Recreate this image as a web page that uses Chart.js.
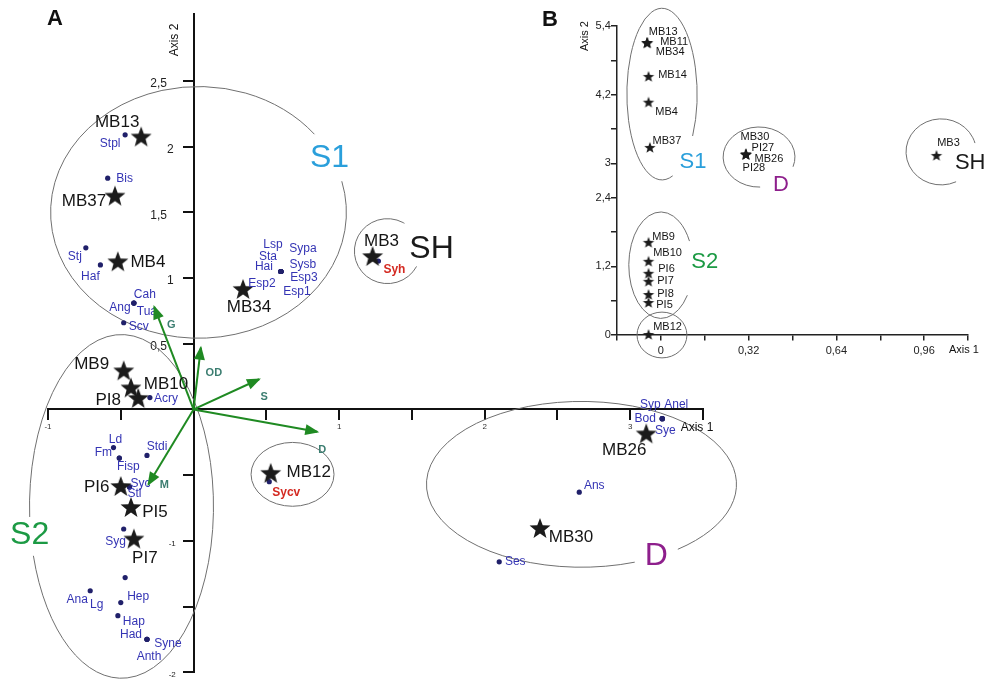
<!DOCTYPE html>
<html>
<head>
<meta charset="utf-8">
<script src="https://cdn.jsdelivr.net/npm/chart.js@4.4.1/dist/chart.umd.min.js"></script>
<style>
  html, body { margin: 0; padding: 0; background: #fff; }
  #wrap { position: relative; width: 987px; height: 680px; overflow: hidden; }
  #chartA { position: absolute; left: 0; top: 0; }
  #chartB { position: absolute; left: 540px; top: 0; }
</style>
</head>
<body>
<div id="wrap">
  <canvas id="chartA" width="987" height="680"></canvas>
  <canvas id="chartB" width="447" height="380"></canvas>
</div>
<script>
// ===== Panel A data =====
const sitesA = ['MB13', 'MB37', 'MB4', 'MB34', 'MB3', 'MB9', 'MB10', 'PI8', 'PI6', 'PI5', 'PI7', 'MB12', 'MB26', 'MB30'];
const siteAx = [-0.36, -0.54, -0.52, 0.34, 1.23, -0.48, -0.43, -0.38, -0.50, -0.43, -0.41, 0.53, 3.11, 2.38];
const siteAy = [2.07, 1.62, 1.12, 0.91, 1.16, 0.29, 0.16, 0.08, -0.59, -0.75, -0.99, -0.49, -0.19, -0.91];

const speciesA = ['Stpl', 'Bis', 'Stj', 'Haf', 'Cah', 'Ang', 'Tua', 'Scv',
  'Lsp', 'Sta', 'Hai', 'Sypa', 'Sysb', 'Esp3', 'Esp2', 'Esp1',
  'Acry', 'Ld', 'Fm', 'Fisp', 'Stdi', 'Syc', 'Stl', 'Syg',
  'Hep', 'Ana', 'Lg', 'Hap', 'Syne', 'Had', 'Anth',
  'Syh', 'Sycv', 'Syp', 'Anel', 'Bod', 'Sye', 'Ans', 'Ses'];
const speciesAx = [-0.47, -0.59, -0.74, -0.64, -0.41, -0.41, -0.41, -0.48,
  0.60, 0.60, 0.60, 0.60, 0.60, 0.60, 0.60, 0.60,
  -0.30, -0.55, -0.51, -0.51, -0.32, -0.44, -0.44, -0.48,
  -0.47, -0.71, -0.50, -0.52, -0.32, -0.32, -0.32,
  1.27, 0.52, 3.22, 3.22, 3.22, 3.22, 2.65, 2.10];
const speciesAy = [2.09, 1.76, 1.23, 1.10, 0.81, 0.81, 0.81, 0.66,
  1.05, 1.05, 1.05, 1.05, 1.05, 1.05, 1.05, 1.05,
  0.09, -0.29, -0.37, -0.37, -0.35, -0.59, -0.59, -0.91,
  -1.28, -1.38, -1.47, -1.57, -1.75, -1.75, -1.75,
  1.13, -0.55, -0.07, -0.07, -0.07, -0.07, -0.63, -1.16];

const envA = ['G', 'OD', 'S', 'D', 'M'];
const envAx = [-0.27, 0.05, 0.45, 0.85, -0.31];
const envAy = [0.78, 0.47, 0.23, -0.17, -0.57];

const ticksAx = [-1, -0.5, 0, 0.5, 1, 1.5, 2, 2.5, 3, 3.5];
const ticksAy = [-2, -1.5, -1, -0.5, 0, 0.5, 1, 1.5, 2, 2.5];
const labeledAx = [-1, 1, 2, 3];
const labeledAy = [-2, -1, 0.5, 1, 1.5, 2, 2.5];

// ===== Panel B data =====
const sitesB = ['MB13', 'MB11', 'MB34', 'MB14', 'MB4', 'MB37', 'MB30', 'PI27', 'MB26', 'PI28', 'MB3',
  'MB9', 'MB10', 'PI6', 'PI7', 'PI8', 'PI5', 'MB12'];
const siteBx = [-0.05, -0.05, -0.05, -0.045, -0.045, -0.04, 0.31, 0.31, 0.31, 0.31, 1.005,
  -0.045, -0.045, -0.045, -0.045, -0.045, -0.045, -0.045];
const siteBy = [5.10, 5.10, 5.10, 4.51, 4.06, 3.27, 3.15, 3.15, 3.15, 3.15, 3.13,
  1.61, 1.28, 1.07, 0.93, 0.70, 0.56, 0.0];

const ticksBx = [-0.16, 0, 0.16, 0.32, 0.48, 0.64, 0.8, 0.96, 1.12];
const ticksBy = [0, 0.6, 1.2, 1.8, 2.4, 3, 3.6, 4.2, 4.8, 5.4];
const labeledBx = [0, 0.32, 0.64, 0.96];
const labeledBy = [0, 1.2, 2.4, 3, 4.2, 5.4];

// ===== group outlines (data units) and label placement =====
const groupsA = [
  { name: 'S1', cx: 0.034, cy: 1.50, rx: 1.016, ry: 0.958, gap: [-0.67, -0.25], lx: 0.934, ly: 1.916, color: '#2a9fdb' },
  { name: 'S2', cx: -0.495, cy: -0.738, rx: 0.632, ry: 1.308, gap: [2.85, 3.08], lx: -1.126, ly: -0.958, color: '#1c9a44' },
  { name: 'SH', cx: 1.332, cy: 1.205, rx: 0.227, ry: 0.247, gap: [-1.03, 0.49], lx: 1.635, ly: 1.217, color: '#1a1a1a' },
  { name: '', cx: 0.68, cy: -0.494, rx: 0.285, ry: 0.243, gap: null, lx: 0, ly: 0, color: '#000' },
  { name: 'D', cx: 2.665, cy: -0.570, rx: 1.065, ry: 0.631, gap: [0.90, 1.22], lx: 3.18, ly: -1.118, color: '#8e1f8c' }
];
const groupsB = [
  { name: 'S1', cx: 0.004, cy: 4.21, rx: 0.128, ry: 1.50, gap: [0.51, 1.26], lx: 0.117, ly: 3.02, color: '#2a9fdb' },
  { name: 'S2', cx: 0.0, cy: 1.22, rx: 0.117, ry: 0.93, gap: [-0.47, 0.6], lx: 0.16, ly: 1.28, color: '#1c9a44' },
  { name: '', cx: 0.004, cy: 0.0, rx: 0.091, ry: 0.40, gap: null, lx: 0, ly: 0, color: '#000' },
  { name: 'D', cx: 0.358, cy: 3.11, rx: 0.131, ry: 0.525, gap: [0.33, 1.54], lx: 0.438, ly: 2.62, color: '#8e1f8c' },
  { name: 'SH', cx: 1.022, cy: 3.20, rx: 0.128, ry: 0.577, gap: [-0.27, 1.13], lx: 1.128, ly: 3.01, color: '#1a1a1a' }
];

// label offsets in pixels from the mark
const offSitesA = {
  MB13: [-24, -15], MB37: [-31, 5], MB4: [30, 0], MB34: [6, 17], MB3: [9, -16], MB9: [-32, -7],
  MB10: [35, -4], PI8: [-30, 1], PI6: [-24, 0], PI5: [24, 4], PI7: [11, 19], MB12: [38, -2],
  MB26: [-22, 16], MB30: [31, 8]
};
const offSpeciesA = {
  Stpl: [-15, 9], Bis: [17, 0], Stj: [-11, 9], Haf: [-10, 12], Cah: [11, -8], Ang: [-14, 5], Tua: [13, 9], Scv: [15, 4],
  Lsp: [-8, -27], Sta: [-13, -15], Hai: [-17, -5], Sypa: [22, -23], Sysb: [22, -7], Esp3: [23, 6], Esp2: [-19, 12], Esp1: [16, 20],
  Acry: [16, 1], Ld: [2, -8], Fm: [-16, -5], Fisp: [9, 9], Stdi: [10, -9], Syc: [11, -3], Stl: [5, 7], Syg: [-8, 13],
  Hep: [13, 19], Ana: [-13, 9], Lg: [-24, 2], Hap: [16, 6], Syne: [21, 4], Had: [-16, -5], Anth: [2, 17],
  Syh: [16, 9], Sycv: [17, 11], Syp: [-12, -14], Anel: [14, -14], Bod: [-17, 0], Sye: [3, 12], Ans: [15, -7], Ses: [16, 0]
};
const offEnvA = { G: [17, 18], OD: [13, 25], S: [5, 18], D: [5, 18], M: [16, 1] };
const offSitesB = {
  MB13: [16, -11], MB11: [27, -1], MB34: [23, 9], MB14: [24, -2], MB4: [18, 9], MB37: [17, -7],
  MB30: [9, -18], PI27: [17, -7], MB26: [23, 4], PI28: [8, 13], MB3: [12, -13],
  MB9: [15, -6], MB10: [19, -9], PI6: [18, -5], PI7: [17, -1], PI8: [17, -1], PI5: [16, 2], MB12: [19, -8]
};
const redSpecies = ['Syh', 'Sycv'];

const FAMILY = "'Liberation Sans', Arial, sans-serif";
const fmt = v => String(v).replace('.', ',');

function makeStar(R) {
  const c = document.createElement('canvas');
  const s = Math.ceil(R * 2 + 2);
  c.width = s;
  c.height = s;
  const g = c.getContext('2d');
  g.fillStyle = '#1b1b1b';
  g.beginPath();
  for (let k = 0; k < 10; k++) {
    const r = k % 2 ? R * 0.42 : R;
    const a = -Math.PI / 2 + k * Math.PI / 5;
    g.lineTo(s / 2 + r * Math.cos(a), s / 2 + r * Math.sin(a));
  }
  g.closePath();
  g.fill();
  return c;
}

function points(xs, ys) {
  return xs.map((x, i) => ({ x, y: ys[i] }));
}

// draws the group ellipses (with a gap for the group name) and the group names
function groupPlugin(groups, fontSize) {
  return {
    id: 'groups',
    beforeDatasetsDraw(chart) {
      const { ctx, scales: { x, y } } = chart;
      ctx.save();
      groups.forEach(g => {
        const cx = x.getPixelForValue(g.cx), cy = y.getPixelForValue(g.cy);
        const rx = Math.abs(x.getPixelForValue(g.cx + g.rx) - cx);
        const ry = Math.abs(y.getPixelForValue(g.cy + g.ry) - cy);
        ctx.strokeStyle = '#707070';
        ctx.lineWidth = 1;
        ctx.beginPath();
        if (g.gap) ctx.ellipse(cx, cy, rx, ry, 0, g.gap[1], g.gap[0] + Math.PI * 2);
        else ctx.ellipse(cx, cy, rx, ry, 0, 0, Math.PI * 2);
        ctx.stroke();
        if (g.name) {
          ctx.fillStyle = g.color;
          ctx.font = fontSize + 'px ' + FAMILY;
          ctx.textAlign = 'center';
          ctx.textBaseline = 'middle';
          ctx.fillText(g.name, x.getPixelForValue(g.lx), y.getPixelForValue(g.ly));
        }
      });
      ctx.restore();
    }
  };
}

// arrow heads + all point labels
const labelPlugin = {
  id: 'pointLabels',
  afterDatasetsDraw(chart) {
    const ctx = chart.ctx;
    chart.data.datasets.forEach((ds, i) => {
      const meta = chart.getDatasetMeta(i);
      ctx.save();
      if (ds.kind === 'arrow') {
        const a = meta.data[0], b = meta.data[1];
        const ang = Math.atan2(b.y - a.y, b.x - a.x);
        ctx.fillStyle = '#1f8a22';
        ctx.translate(b.x, b.y);
        ctx.rotate(ang);
        ctx.beginPath();
        ctx.moveTo(2, 0);
        ctx.lineTo(-12, -5.5);
        ctx.lineTo(-12, 5.5);
        ctx.closePath();
        ctx.fill();
        ctx.setTransform(1, 0, 0, 1, 0, 0);
        const off = offEnvA[ds.name];
        ctx.fillStyle = '#3b7d70';
        ctx.font = 'bold 11px ' + FAMILY;
        ctx.textAlign = 'center';
        ctx.textBaseline = 'middle';
        ctx.fillText(ds.name, b.x + off[0], b.y + off[1]);
      } else if (ds.names) {
        ctx.textAlign = 'center';
        ctx.textBaseline = 'middle';
        meta.data.forEach((el, j) => {
          const name = ds.names[j];
          const off = ds.offsets[name] || [0, 0];
          if (ds.kind === 'siteA') { ctx.font = '17px ' + FAMILY; ctx.fillStyle = '#151515'; }
          else if (ds.kind === 'siteB') { ctx.font = '11px ' + FAMILY; ctx.fillStyle = '#151515'; }
          else if (redSpecies.includes(name)) { ctx.font = 'bold 12px ' + FAMILY; ctx.fillStyle = '#d42a22'; }
          else { ctx.font = '12px ' + FAMILY; ctx.fillStyle = '#3434b4'; }
          ctx.fillText(name, el.x + off[0], el.y + off[1]);
        });
      }
      ctx.restore();
    });
  }
};

const decorA = {
  id: 'decorA',
  afterDraw(chart) {
    const { ctx, scales: { x, y } } = chart;
    ctx.save();
    ctx.fillStyle = '#111';
    ctx.font = 'bold 22px ' + FAMILY;
    ctx.textAlign = 'left';
    ctx.textBaseline = 'top';
    ctx.fillText('A', 47, 8);
    ctx.font = '12px ' + FAMILY;
    ctx.textAlign = 'center';
    ctx.textBaseline = 'middle';
    ctx.fillText('Axis 1', x.right - 6, y.getPixelForValue(0) + 18);
    ctx.translate(x.getPixelForValue(0) - 19, y.top + 26);
    ctx.rotate(-Math.PI / 2);
    ctx.fillText('Axis 2', 0, 0);
    ctx.restore();
  }
};

const decorB = {
  id: 'decorB',
  afterDraw(chart) {
    const { ctx, scales: { x, y } } = chart;
    ctx.save();
    ctx.fillStyle = '#111';
    ctx.font = 'bold 22px ' + FAMILY;
    ctx.textAlign = 'left';
    ctx.textBaseline = 'top';
    ctx.fillText('B', 2, 9);
    ctx.font = '11px ' + FAMILY;
    ctx.textAlign = 'center';
    ctx.textBaseline = 'middle';
    ctx.fillText('Axis 1', x.right - 4, y.getPixelForValue(0) + 15);
    ctx.translate(x.left - 32, y.top + 10);
    ctx.rotate(-Math.PI / 2);
    ctx.fillText('Axis 2', 0, 0);
    ctx.restore();
  }
};

const starA = makeStar(11);
const starB = makeStar(6);

// ===== Chart A =====
const datasetsA = [
  { kind: 'siteA', names: sitesA, offsets: offSitesA, data: points(siteAx, siteAy),
    pointStyle: starA, order: 0, clip: false },
  { kind: 'species', names: speciesA, offsets: offSpeciesA, data: points(speciesAx, speciesAy),
    pointRadius: 2.6, backgroundColor: '#20206a', borderWidth: 0, order: 1, clip: false }
];
envA.forEach((name, i) => {
  datasetsA.push({
    kind: 'arrow', name, showLine: true, order: 2, clip: false,
    data: [{ x: 0, y: 0 }, { x: envAx[i], y: envAy[i] }],
    borderColor: '#1f8a22', borderWidth: 2, pointRadius: 0
  });
});

new Chart(document.getElementById('chartA'), {
  type: 'scatter',
  data: { datasets: datasetsA },
  options: {
    responsive: false,
    animation: false,
    events: [],
    layout: { padding: { left: 48, right: 284, top: 14, bottom: 7 } },
    plugins: { legend: { display: false }, tooltip: { enabled: false } },
    scales: {
      x: {
        type: 'linear', min: -1, max: 3.5, position: { y: 0 },
        afterBuildTicks: s => { s.ticks = ticksAx.map(v => ({ value: v })); },
        grid: { drawOnChartArea: false, drawTicks: true, tickLength: 10, color: '#111', lineWidth: 2 },
        border: { display: true, color: '#111', width: 2 },
        ticks: {
          autoSkip: false, maxRotation: 0, padding: 3, color: '#333',
          font: { size: 8, family: FAMILY },
          callback: v => labeledAx.includes(v) ? fmt(v) : ''
        }
      },
      y: {
        type: 'linear', min: -2, max: 3.01, position: { x: 0 },
        afterBuildTicks: s => { s.ticks = ticksAy.map(v => ({ value: v })); },
        grid: { drawOnChartArea: false, drawTicks: true, tickLength: 10, color: '#111', lineWidth: 2 },
        border: { display: true, color: '#111', width: 2 },
        ticks: {
          autoSkip: false, labelOffset: 3, color: '#222',
          font: ctx => ({ size: ctx.tick && ctx.tick.value < 0 ? 8 : 12, family: FAMILY }),
          callback: v => {
            if (!labeledAy.includes(v)) return '';
            const pad = Number.isInteger(v) && v > 0 ? '      ' : '        ';
            return fmt(v) + pad;
          }
        }
      }
    }
  },
  plugins: [groupPlugin(groupsA, 32), labelPlugin, decorA]
});

// ===== Chart B =====
new Chart(document.getElementById('chartB'), {
  type: 'scatter',
  data: {
    datasets: [
      { kind: 'siteB', names: sitesB, offsets: offSitesB, data: points(siteBx, siteBy),
        pointStyle: starB, clip: false }
    ]
  },
  options: {
    responsive: false,
    animation: false,
    events: [],
    layout: { padding: { left: 77, right: 19, top: 26, bottom: 45 } },
    plugins: { legend: { display: false }, tooltip: { enabled: false } },
    scales: {
      x: {
        type: 'linear', min: -0.16, max: 1.12, position: { y: 0 },
        afterBuildTicks: s => { s.ticks = ticksBx.map(v => ({ value: v })); },
        grid: { drawOnChartArea: false, drawTicks: true, tickLength: 5, color: '#222', lineWidth: 1.5 },
        border: { display: true, color: '#222', width: 1.5 },
        ticks: {
          autoSkip: false, maxRotation: 0, padding: 4, color: '#222',
          font: { size: 11, family: FAMILY },
          callback: v => labeledBx.includes(v) ? fmt(v) : ''
        }
      },
      y: {
        type: 'linear', min: 0, max: 5.4, position: { x: -0.16 },
        afterBuildTicks: s => { s.ticks = ticksBy.map(v => ({ value: v })); },
        grid: { drawOnChartArea: false, drawTicks: true, tickLength: 5, color: '#222', lineWidth: 1.5 },
        border: { display: true, color: '#222', width: 1.5 },
        ticks: {
          autoSkip: false, color: '#222',
          font: { size: 11, family: FAMILY },
          callback: v => labeledBy.includes(v) ? fmt(v) + '  ' : ''
        }
      }
    }
  },
  plugins: [groupPlugin(groupsB, 22), labelPlugin, decorB]
});
</script>
</body>
</html>
